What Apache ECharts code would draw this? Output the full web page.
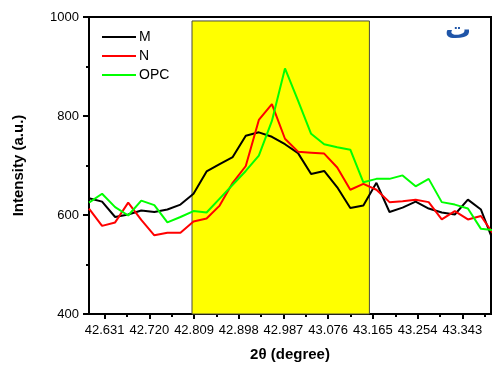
<!DOCTYPE html>
<html>
<head>
<meta charset="utf-8">
<script src="https://cdn.jsdelivr.net/npm/echarts@6/dist/echarts.min.js"></script>
<style>
  html, body { margin: 0; padding: 0; background: #ffffff; }
  #chart { width: 492px; height: 367px; }
</style>
</head>
<body>
<div id="chart"></div>
<script>
// 2θ positions of the scan (degrees)
var twoTheta = [42.600, 42.626, 42.652, 42.678, 42.704, 42.730, 42.756, 42.782,
                42.808, 42.834, 42.860, 42.886, 42.912, 42.938, 42.964, 42.990,
                43.016, 43.042, 43.068, 43.094, 43.120, 43.146, 43.172, 43.198,
                43.224, 43.250, 43.276, 43.302, 43.328, 43.354, 43.380, 43.406];

// Intensity (a.u.) per sample
var seriesM   = [634, 627, 596, 601, 609, 606, 611, 621, 643, 688, 703, 717, 760, 767, 758, 743,
                 725, 683, 689, 656, 614, 619, 665, 606, 615, 627, 613, 605, 601, 631, 611, 543];
var seriesN   = [613, 578, 585, 625, 590, 559, 564, 564, 587, 593, 619, 665, 699, 792, 824, 754,
                 728, 726, 724, 696, 651, 663, 651, 626, 628, 631, 626, 591, 608, 591, 598, 560];
var seriesOPC = [625, 643, 616, 599, 629, 620, 585, 596, 608, 605, 633, 661, 689, 720, 790, 896,
                 831, 764, 743, 737, 732, 666, 673, 673, 680, 658, 673, 626, 621, 613, 572, 569];

// Axis ticks
var xTickLabels = [42.631, 42.720, 42.809, 42.898, 42.987, 43.076, 43.165, 43.254, 43.343];
var xMinorTicks = [42.6755, 42.7645, 42.8535, 42.9425, 43.0315, 43.1205, 43.2095, 43.2985, 43.3875];
var yTicks = [400, 600, 800, 1000];

// Highlighted 2θ window
var bandRange = [42.805, 43.158];
var bandTop = 992;

var names = ['M', 'N', 'OPC'];
var colors = ['#000000', '#ff0000', '#00ff00'];
var values = [seriesM, seriesN, seriesOPC];

function pairs(ys) {
  return twoTheta.map(function (x, i) { return [x, ys[i]]; });
}

var chart = echarts.init(document.getElementById('chart'), null, { renderer: 'canvas' });

var series = [{
  name: 'band',
  type: 'line',
  data: [],
  silent: true,
  markArea: {
    silent: true,
    itemStyle: { color: '#ffff00', borderColor: '#4a4a3a', borderWidth: 1 },
    data: [[{ xAxis: bandRange[0], yAxis: yTicks[0] }, { xAxis: bandRange[1], yAxis: bandTop }]]
  }
}];
names.forEach(function (n, i) {
  series.push({
    name: n,
    type: 'line',
    data: pairs(values[i]),
    symbol: 'none',
    clip: true,
    lineStyle: { color: colors[i], width: 2 },
    itemStyle: { color: colors[i] }
  });
});

chart.setOption({
  animation: false,
  backgroundColor: '#ffffff',
  textStyle: { fontFamily: 'Liberation Sans, Arial, sans-serif' },
  grid: {
    left: 89, top: 17, right: 1, bottom: 51,
    show: true, borderColor: '#000', borderWidth: 2, backgroundColor: 'transparent'
  },
  legend: {
    data: names,
    orient: 'vertical',
    left: 97, top: 25,
    itemWidth: 34, itemHeight: 10, itemGap: 5,
    icon: 'path://M0,4 L34,4 L34,6 L0,6 Z',
    textStyle: { fontSize: 14, color: '#000', padding: [0, 0, 0, -2] }
  },
  graphic: [{
    type: 'text',
    x: 458, y: 31,
    z: 100,
    style: { text: 'ت', fontSize: 26, fontWeight: 'bold', fill: '#1f55a8',
             align: 'center', verticalAlign: 'middle',
             fontFamily: 'DejaVu Sans, sans-serif' }
  }],
  xAxis: [{
    type: 'value',
    min: 42.6, max: 43.4,
    name: '2θ (degree)',
    nameLocation: 'middle',
    nameGap: 33,
    nameTextStyle: { fontSize: 15, fontWeight: 'bold', color: '#000' },
    axisLine: { show: true, onZero: false, lineStyle: { color: '#000', width: 2 } },
    axisTick: { show: true, customValues: xTickLabels, length: 5, lineStyle: { color: '#000', width: 2 } },
    axisLabel: { customValues: xTickLabels, color: '#000', fontSize: 13, margin: 10,
                 formatter: function (v) { return v.toFixed(3); } },
    splitLine: { show: false }
  }, {
    type: 'value',
    min: 42.6, max: 43.4,
    position: 'bottom',
    axisLine: { show: false },
    axisTick: { show: true, customValues: xMinorTicks, length: 3, lineStyle: { color: '#000', width: 2 } },
    axisLabel: { show: false },
    splitLine: { show: false }
  }],
  yAxis: {
    type: 'value',
    min: 400, max: 1000, interval: 200,
    name: 'Intensity (a.u.)',
    nameLocation: 'middle',
    nameGap: 63,
    nameTextStyle: { fontSize: 15, fontWeight: 'bold', color: '#000' },
    axisLine: { show: true, lineStyle: { color: '#000', width: 2 } },
    axisTick: { show: true, length: 6, lineStyle: { color: '#000', width: 2 } },
    minorTick: { show: true, splitNumber: 2, length: 3, lineStyle: { color: '#000', width: 2 } },
    axisLabel: { color: '#000', fontSize: 13, margin: 10,
                 formatter: function (v) { return String(v); } },
    splitLine: { show: false }
  },
  series: series
});
</script>
</body>
</html>
